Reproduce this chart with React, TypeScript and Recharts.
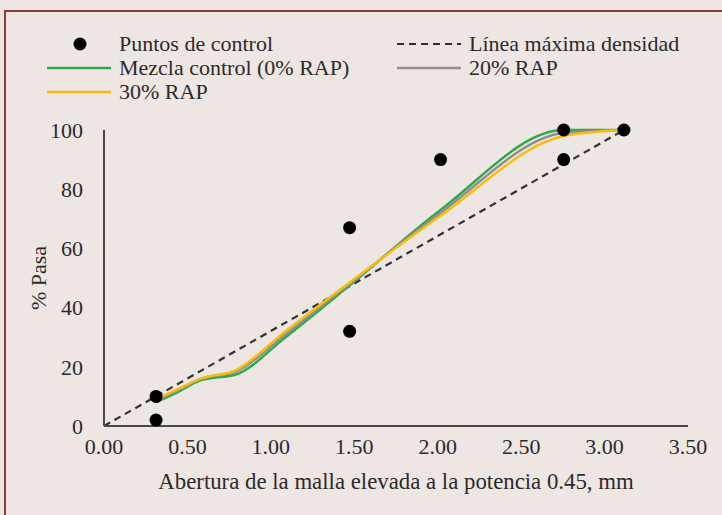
import React from "react"
import { ComposedChart, Line, Scatter, XAxis, YAxis, Label } from "recharts"

// sieve openings raised to 0.45 (mm^0.45)
const sieveX = [0.312, 0.426, 0.582, 0.795, 1.077, 1.472, 2.017, 2.755, 3.116]
const mixControl = [8, 11, 15.5, 17.5, 29.5, 47.5, 73, 100, 100]
const mixRap20 = [8.5, 11.5, 16, 18.5, 30.5, 48, 72, 99, 100]
const mixRap30 = [9, 12, 16, 19, 31.5, 48.5, 71, 98, 100]

const controlX = [0.312, 0.312, 1.472, 1.472, 2.017, 2.755, 2.755, 3.116]
const controlY = [10, 2, 67, 32, 90, 100, 90, 100]

const maxDensityX = [0, 3.116]
const maxDensityY = [0, 100]

const xTicks = [0, 0.5, 1, 1.5, 2, 2.5, 3, 3.5]
const yTicks = [0, 20, 40, 60, 80, 100]

const toPoints = (xs: number[], ys: number[]) => xs.map((x, i) => ({ x, y: ys[i] }))

const FONT = "'Liberation Serif', 'Times New Roman', serif"
const FS = 22
const TEXT = "#2b2b2b"
const GREEN = "#2fa84f"
const GRAY = "#8f8f8f"
const YELLOW = "#f7bd0a"

function LegendBox() {
  const row = { position: "absolute" as const, display: "flex", alignItems: "center", whiteSpace: "nowrap" as const }
  const txt = { fontFamily: FONT, fontSize: FS, color: TEXT, lineHeight: "24px" }
  const line = (color: string, dashed = false) => (
    <svg width={64} height={6} style={{ marginRight: 8 }}>
      <line x1={0} y1={3} x2={64} y2={3} stroke={color} strokeWidth={dashed ? 2.2 : 2.5} strokeDasharray={dashed ? "7 5" : undefined} />
    </svg>
  )
  return (
    <div style={{ position: "absolute", left: 0, top: 0, width: 722, height: 110 }}>
      <div style={{ ...row, left: 47, top: 32 }}>
        <svg width={64} height={14} style={{ marginRight: 8 }}>
          <circle cx={33} cy={7} r={6.5} fill="#000" />
        </svg>
        <span style={txt}>Puntos de control</span>
      </div>
      <div style={{ ...row, left: 397, top: 32 }}>
        {line("#333", true)}
        <span style={txt}>Línea máxima densidad</span>
      </div>
      <div style={{ ...row, left: 47, top: 56 }}>
        {line(GREEN)}
        <span style={txt}>Mezcla control (0% RAP)</span>
      </div>
      <div style={{ ...row, left: 397, top: 56 }}>
        {line(GRAY)}
        <span style={txt}>20% RAP</span>
      </div>
      <div style={{ ...row, left: 47, top: 80 }}>
        {line(YELLOW)}
        <span style={txt}>30% RAP</span>
      </div>
    </div>
  )
}

export default function App() {
  const tickStyle = { fontFamily: FONT, fontSize: FS, fill: TEXT }
  return (
    <div
      style={{
        position: "fixed",
        left: 0,
        top: 0,
        width: 722,
        height: 515,
        background: "#eee6e3",
      }}
    >
      <div
        style={{
          position: "absolute",
          left: 4,
          top: 10,
          right: 0,
          bottom: 0,
          borderLeft: "2px solid #8b3e2f",
          borderTop: "2px solid #8b3e2f",
        }}
      />
      <ComposedChart width={722} height={515} margin={{ top: 130, right: 34, bottom: 29, left: 24 }} style={{ position: "absolute", left: 0, top: 0 }}>
        <XAxis
          dataKey="x"
          type="number"
          domain={[0, 3.5]}
          ticks={xTicks}
          tickFormatter={(v: number) => v.toFixed(2)}
          tick={tickStyle}
          tickSize={0}
          tickMargin={12}
          height={60}
          stroke="#4a4a4a"
          strokeWidth={2}
          allowDataOverflow
        >
          <Label value="Abertura de la malla elevada a la potencia 0.45, mm" position="insideBottom" offset={-3} style={{ fontFamily: FONT, fontSize: 22.8, fill: TEXT }} />
        </XAxis>
        <YAxis
          dataKey="y"
          type="number"
          domain={[0, 100]}
          ticks={yTicks}
          tick={tickStyle}
          tickSize={0}
          tickMargin={21}
          width={80}
          stroke="#4a4a4a"
          strokeWidth={2}
        >
          <Label value="% Pasa" angle={-90} position="insideLeft" offset={14} style={{ fontFamily: FONT, fontSize: FS, fill: TEXT, textAnchor: "middle" }} />
        </YAxis>
        <Line
          data={toPoints(maxDensityX, maxDensityY)}
          dataKey="y"
          type="linear"
          stroke="#333"
          strokeWidth={2.2}
          strokeDasharray="7 5"
          dot={false}
          isAnimationActive={false}
          name="Línea máxima densidad"
        />
        <Line data={toPoints(sieveX, mixControl)} dataKey="y" type="monotone" stroke={GREEN} strokeWidth={2.5} dot={false} isAnimationActive={false} name="Mezcla control (0% RAP)" />
        <Line data={toPoints(sieveX, mixRap20)} dataKey="y" type="monotone" stroke={GRAY} strokeWidth={2.5} dot={false} isAnimationActive={false} name="20% RAP" />
        <Line data={toPoints(sieveX, mixRap30)} dataKey="y" type="monotone" stroke={YELLOW} strokeWidth={2.5} dot={false} isAnimationActive={false} name="30% RAP" />
        <Scatter
          data={toPoints(controlX, controlY)}
          dataKey="y"
          fill="#000"
          isAnimationActive={false}
          name="Puntos de control"
          shape={(p: any) => <circle cx={p.cx} cy={p.cy} r={6.5} fill="#000" />}
        />
      </ComposedChart>
      <LegendBox />
    </div>
  )
}
